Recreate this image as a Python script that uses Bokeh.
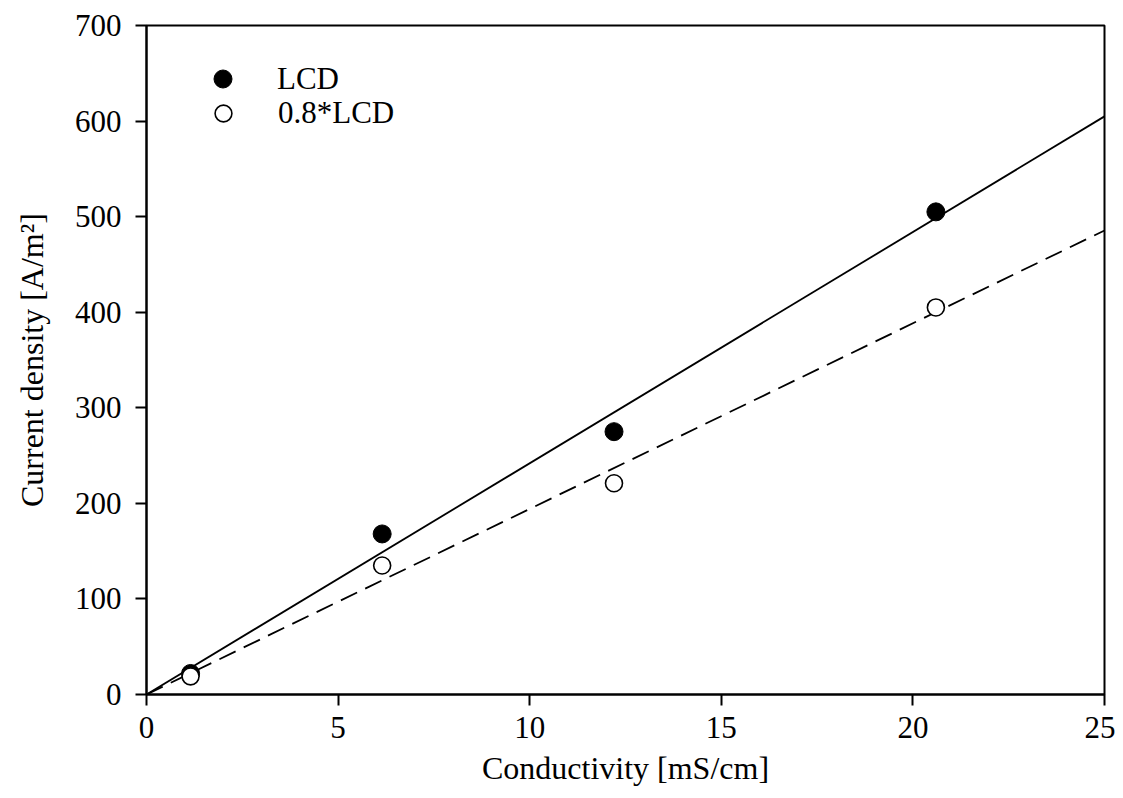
from bokeh.plotting import figure
from bokeh.models import Range1d, FixedTicker, Legend, LegendItem
from bokeh.embed import file_html
from bokeh.resources import INLINE
import numpy as np

# Data
conductivity = [1.15, 6.15, 12.2, 20.6]
lcd = [22, 168, 275, 505]
lcd_08 = [19, 135, 221, 405]
x_ticks = [0, 5, 10, 15, 20, 25]
y_ticks = [0, 100, 200, 300, 400, 500, 600, 700]
x_max = 25
y_max = 700

FONT = "Liberation Serif"

# Linear fits through the origin
xa = np.array(conductivity)
slope_lcd = float(np.sum(xa * np.array(lcd)) / np.sum(xa * xa))
slope_08 = float(np.sum(xa * np.array(lcd_08)) / np.sum(xa * xa))
fit_x = [0, x_max]

W, H = 1115, 790
p = figure(width=W, height=H, output_backend="svg", toolbar_location=None,
           x_range=Range1d(0, x_max), y_range=Range1d(0, y_max),
           min_border_left=146, min_border_right=W - 1104,
           min_border_top=25, min_border_bottom=H - 694)
p.background_fill_color = "white"
p.border_fill_color = "white"
p.outline_line_color = "black"
p.outline_line_width = 2
p.grid.visible = False

r1 = p.line(fit_x, [slope_lcd * v for v in fit_x], line_color="black", line_width=1.8)
r2 = p.line(fit_x, [slope_08 * v for v in fit_x], line_color="black", line_width=1.8,
            line_dash="18 9")
s1 = p.scatter(conductivity, lcd, marker="circle", size=18, fill_color="black",
               line_color="black")
s2 = p.scatter(conductivity, lcd_08, marker="circle", size=17, fill_color="white",
               line_color="black", line_width=1.6)

for ax in (p.xaxis[0], p.yaxis[0]):
    ax.axis_line_width = 2
    ax.major_tick_line_width = 2
    ax.major_tick_out = 11
    ax.major_tick_in = 0
    ax.minor_tick_line_color = None
    ax.major_label_text_font = FONT
    ax.major_label_text_font_size = "31px"
    ax.major_label_text_color = "black"
    ax.axis_label_text_font = FONT
    ax.axis_label_text_font_size = "32px"
    ax.axis_label_text_font_style = "normal"
    ax.axis_label_text_color = "black"

p.xaxis[0].ticker = FixedTicker(ticks=x_ticks)
p.yaxis[0].ticker = FixedTicker(ticks=y_ticks)
p.xaxis[0].axis_label = "Conductivity [mS/cm]"
p.yaxis[0].axis_label = "Current density [A/m\u00b2]"
p.xaxis[0].major_label_standoff = 11
p.yaxis[0].major_label_standoff = 14
p.xaxis[0].axis_label_standoff = 9
p.yaxis[0].axis_label_standoff = 22


def make_legend(label, renderer, glyph, loc):
    lg = Legend(items=[LegendItem(label=label, renderers=[renderer])], location=loc)
    lg.background_fill_alpha = 0
    lg.border_line_color = None
    lg.label_text_font = FONT
    lg.label_text_font_size = "31px"
    lg.label_text_color = "black"
    lg.glyph_width = glyph
    lg.glyph_height = glyph
    lg.label_standoff = int(round(55 - glyph / 2))
    lg.spacing = 0
    lg.padding = 0
    lg.margin = 0
    return lg


p.add_layout(make_legend("LCD", s1, 45, (54, 593)), "center")
p.add_layout(make_legend("0.8*LCD", s2, 42, (56, 560)), "center")

open("out.html", "w").write(file_html(p, INLINE))
